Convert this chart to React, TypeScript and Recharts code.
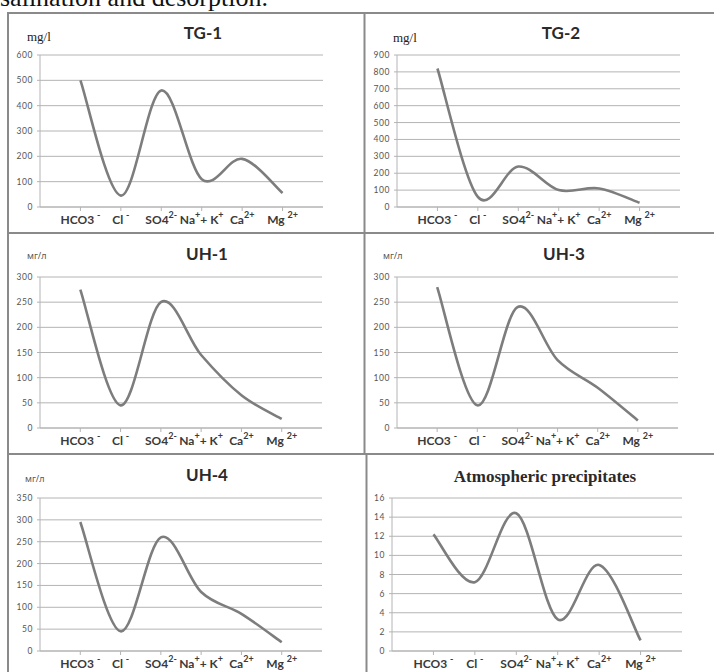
import { LineChart, Line, XAxis, YAxis, CartesianGrid } from 'recharts'

// ion labels: even index = normal text, odd index = superscript
const CATEGORY_LABELS = [
  ['HCO3 ', '-'],
  ['Cl ', '-'],
  ['SO4', '2-'],
  ['Na', '+', '+ K', '+'],
  ['Ca', '2+'],
  ['Mg ', '2+'],
]
const CATEGORY_X = [1, 2, 3, 4, 5, 6]

const TG1 = [500, 45, 460, 110, 190, 55]
const TG2 = [820, 60, 240, 100, 110, 25]
const UH1 = [275, 45, 250, 145, 65, 18]
const UH3 = [280, 45, 240, 135, 80, 15]
const UH4 = [295, 45, 260, 135, 85, 20]
const ATMOS = [12.2, 7.2, 14.4, 3.3, 9.0, 1.1]

const TICKS_600 = [0, 100, 200, 300, 400, 500, 600]
const TICKS_900 = [0, 100, 200, 300, 400, 500, 600, 700, 800, 900]
const TICKS_300 = [0, 50, 100, 150, 200, 250, 300]
const TICKS_350 = [0, 50, 100, 150, 200, 250, 300, 350]
const TICKS_16 = [0, 2, 4, 6, 8, 10, 12, 14, 16]

const SANS = 'Lato, "Open Sans", sans-serif'
const SERIF = '"Liberation Serif", "DejaVu Serif", serif'
const GRID = '#b4b4b4'
const LINE = '#7d7d7d'
const BORDER = '#8a8a8a'

// Excel-like smoothed line (uniform Catmull-Rom as cubic Bezier)
function smoothCurve(context: any) {
  let pts: number[][] = []
  return {
    areaStart() {},
    areaEnd() {},
    lineStart() { pts = [] },
    point(x: number, y: number) { pts.push([+x, +y]) },
    lineEnd() {
      if (!pts.length) return
      context.moveTo(pts[0][0], pts[0][1])
      for (let i = 0; i < pts.length - 1; i++) {
        const p0 = pts[i - 1] || pts[i]
        const p1 = pts[i]
        const p2 = pts[i + 1]
        const p3 = pts[i + 2] || p2
        context.bezierCurveTo(
          p1[0] + (p2[0] - p0[0]) / 6, p1[1] + (p2[1] - p0[1]) / 6,
          p2[0] - (p3[0] - p1[0]) / 6, p2[1] - (p3[1] - p1[1]) / 6,
          p2[0], p2[1],
        )
      }
    },
  }
}

const CatTick = ({ x, y, payload }: any) => {
  const parts = CATEGORY_LABELS[payload.value - 1]
  if (!parts) return null
  return (
    <text x={x} y={y + 11} textAnchor="middle" fontFamily={SANS} fontWeight={700} fontSize={12} fill="#3a3a3a" style={{ whiteSpace: 'pre' }}>
      {parts.map((p, i) => (
        <tspan key={i} fontSize={i % 2 ? 9 : 12} dy={i % 2 ? -6 : i > 0 ? 6 : 0}>{p}</tspan>
      ))}
    </text>
  )
}

type PanelProps = { values: number[]; ticks: number[]; x0: number; x1: number; y0: number; y1: number }

function Panel({ values, ticks, x0, x1, y0, y1 }: PanelProps) {
  const data = CATEGORY_X.map((x, i) => ({ x, v: values[i] }))
  const padL = 40, padT = 8, padR = 4, padB = 24
  const w = x1 - x0 + padL + padR
  const h = y1 - y0 + padT + padB
  return (
    <div style={{ position: 'absolute', left: x0 - padL, top: y0 - padT, width: w, height: h }}>
      <LineChart width={w} height={h} data={data} margin={{ top: padT, right: padR, bottom: 0, left: 0 }}>
        <CartesianGrid vertical={false} stroke={GRID} strokeWidth={1} />
        <XAxis
          dataKey="x"
          type="number"
          domain={[0, 7]}
          ticks={CATEGORY_X}
          interval={0}
          height={padB}
          tickSize={4}
          stroke={GRID}
          tickLine={{ stroke: GRID }}
          axisLine={{ stroke: GRID }}
          tick={<CatTick />}
        />
        <YAxis
          type="number"
          domain={[0, ticks[ticks.length - 1]]}
          ticks={ticks}
          interval={0}
          width={padL}
          tickSize={3}
          tickMargin={4}
          stroke={GRID}
          tickLine={{ stroke: GRID }}
          axisLine={{ stroke: GRID }}
          tick={{ fontSize: 8.5, fill: '#555', fontFamily: SANS, letterSpacing: 0.6 }}
        />
        <Line
          dataKey="v"
          type={smoothCurve as any}
          stroke={LINE}
          strokeWidth={2.6}
          dot={false}
          activeDot={false}
          isAnimationActive={false}
        />
      </LineChart>
    </div>
  )
}

export default function App() {
  return (
    <div style={{ position: 'absolute', left: 0, top: 0, width: 714, height: 672, background: '#fff', overflow: 'hidden' }}>
      <Panel values={TG1} ticks={TICKS_600} x0={40} x1={323} y0={55} y1={207} />
      <Panel values={TG2} ticks={TICKS_900} x0={397} x1={680} y0={55} y1={207} />
      <Panel values={UH1} ticks={TICKS_300} x0={40} x1={322} y0={277} y1={428} />
      <Panel values={UH3} ticks={TICKS_300} x0={397} x1={678} y0={277} y1={428} />
      <Panel values={UH4} ticks={TICKS_350} x0={40} x1={322} y0={498} y1={651} />
      <Panel values={ATMOS} ticks={TICKS_16} x0={392} x1={682} y0={498} y1={651} />

      <svg width={714} height={672} style={{ position: 'absolute', left: 0, top: 0, pointerEvents: 'none' }}>
        <text x={0} y={6} fontFamily={SERIF} fontSize={26} fill="#111">salination and desorption.</text>

        <g stroke={BORDER} strokeWidth={2} fill="none">
          <line x1={8} y1={13} x2={714} y2={13} />
          <line x1={8} y1={12} x2={8} y2={672} />
          <line x1={364.5} y1={13} x2={364.5} y2={454} />
          <line x1={366.5} y1={454} x2={366.5} y2={672} />
          <line x1={8} y1={233} x2={714} y2={233} />
          <line x1={8} y1={454} x2={714} y2={454} />
        </g>

        <g fontFamily={SANS} fontWeight={700} fontSize={17} fill="#2a2a2a" textAnchor="middle">
          <text x={203} y={39}>TG-1</text>
          <text x={561} y={39}>TG-2</text>
          <text x={207} y={260}>UH-1</text>
          <text x={564} y={260}>UH-3</text>
          <text x={207} y={481}>UH-4</text>
        </g>
        <text x={545} y={482} textAnchor="middle" fontFamily={SERIF} fontWeight={700} fontSize={17} fill="#2a2a2a">Atmospheric precipitates</text>

        <g fontFamily={SERIF} fontSize={13} fill="#222">
          <text x={27} y={41}>mg/l</text>
          <text x={393} y={42}>mg/l</text>
        </g>
        <g fontFamily='"Noto Sans", sans-serif' fontSize={9} fill="#555">
          <text x={27} y={259}>мг/л</text>
          <text x={383} y={259}>мг/л</text>
          <text x={25} y={482}>мг/л</text>
        </g>
      </svg>
    </div>
  )
}
